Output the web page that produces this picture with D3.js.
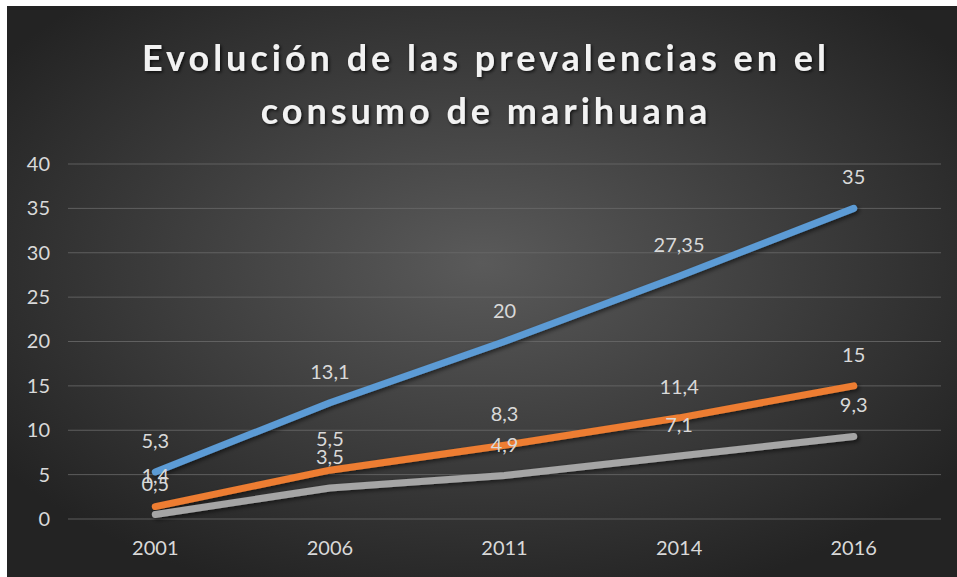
<!DOCTYPE html>
<html>
<head>
<meta charset="utf-8">
<script src="https://cdn.jsdelivr.net/npm/d3@7"></script>
<style>
  html, body { margin: 0; padding: 0; background: #ffffff; }
  svg { display: block; }
</style>
</head>
<body>
<svg id="chart" width="957" height="577"></svg>
<script>
const titleLines = ["Evolución de las prevalencias en el", "consumo de marihuana"];
const categories = ["2001", "2006", "2011", "2014", "2016"];
const serieA = [5.3, 13.1, 20, 27.35, 35];
const serieB = [1.4, 5.5, 8.3, 11.4, 15];
const serieC = [0.5, 3.5, 4.9, 7.1, 9.3];
const yTicks = [0, 5, 10, 15, 20, 25, 30, 35, 40];

const series = [
  { name: "A", values: serieA, color: "#5b9bd5" },
  { name: "B", values: serieB, color: "#ed7d31" },
  { name: "C", values: serieC, color: "#a5a5a5" }
];

const W = 957, H = 577;
const svg = d3.select("#chart");
const defs = svg.append("defs");

const grad = defs.append("radialGradient").attr("id", "bg")
  .attr("cx", "50%").attr("cy", "45%").attr("r", "62%");
grad.append("stop").attr("offset", "0%").attr("stop-color", "#5a5a5a");
grad.append("stop").attr("offset", "100%").attr("stop-color", "#232323");

const sh = defs.append("filter").attr("id", "shadow")
  .attr("x", "-10%").attr("y", "-10%").attr("width", "130%").attr("height", "130%");
sh.append("feDropShadow").attr("dx", 2).attr("dy", 2).attr("stdDeviation", 2)
  .attr("flood-color", "#000").attr("flood-opacity", 0.55);

const tsh = defs.append("filter").attr("id", "tshadow")
  .attr("x", "-5%").attr("y", "-20%").attr("width", "110%").attr("height", "150%");
tsh.append("feDropShadow").attr("dx", 1.5).attr("dy", 1.5).attr("stdDeviation", 1.5)
  .attr("flood-color", "#000").attr("flood-opacity", 0.7);

svg.append("rect").attr("x", 7).attr("y", 6).attr("width", W - 7).attr("height", H - 6)
  .attr("fill", "url(#bg)");

// Title
svg.append("g").selectAll("text").data(titleLines).join("text")
  .attr("x", 486).attr("y", (d, i) => 71 + i * 53)
  .attr("text-anchor", "middle")
  .attr("font-family", "Lato, 'Open Sans', sans-serif")
  .attr("font-weight", "bold")
  .attr("font-size", 36)
  .attr("letter-spacing", 4)
  .attr("fill", "#f2f2f2")
  .attr("filter", "url(#tshadow)")
  .text(d => d);

const x = d3.scaleBand().domain(categories).range([68, 941]);
const y = d3.scaleLinear().domain([0, 40]).range([519, 164]);

// Gridlines
svg.append("g").selectAll("line").data(yTicks).join("line")
  .attr("x1", 68).attr("x2", 941)
  .attr("y1", d => y(d)).attr("y2", d => y(d))
  .attr("stroke", "#6a6a6a").attr("stroke-width", 1).attr("stroke-opacity", 0.8);

// Y axis
const yAxis = svg.append("g").attr("transform", "translate(60,0)")
  .call(d3.axisLeft(y).tickValues(yTicks).tickSize(0).tickPadding(10));
yAxis.select(".domain").remove();
yAxis.selectAll("text")
  .attr("font-family", "Lato, sans-serif").attr("font-size", 20)
  .attr("fill", "#d9d9d9");

// X axis
const xAxis = svg.append("g").attr("transform", "translate(0,519)")
  .call(d3.axisBottom(x).tickSize(0).tickPadding(22));
xAxis.select(".domain").remove();
xAxis.selectAll("text")
  .attr("font-family", "Lato, sans-serif").attr("font-size", 20)
  .attr("fill", "#d9d9d9");

const cx = c => x(c) + x.bandwidth() / 2;
const line = d3.line().x(d => cx(d.c)).y(d => y(d.v));

const g = svg.append("g");
series.forEach(s => {
  const pts = s.values.map((v, i) => ({ c: categories[i], v }));
  g.append("path").datum(pts)
    .attr("d", line)
    .attr("fill", "none")
    .attr("stroke", s.color)
    .attr("stroke-width", 7)
    .attr("stroke-linecap", "round")
    .attr("stroke-linejoin", "round")
    .attr("filter", "url(#shadow)");
});

// Data labels
const fmt = v => String(v).replace(".", ",");
series.forEach(s => {
  svg.append("g").selectAll("text").data(s.values).join("text")
    .attr("x", (d, i) => cx(categories[i]))
    .attr("y", d => y(d) - 24)
    .attr("text-anchor", "middle")
    .attr("font-family", "Lato, sans-serif")
    .attr("font-size", 20)
    .attr("fill", "#d9d9d9")
    .text(d => fmt(d));
});
</script>
</body>
</html>
